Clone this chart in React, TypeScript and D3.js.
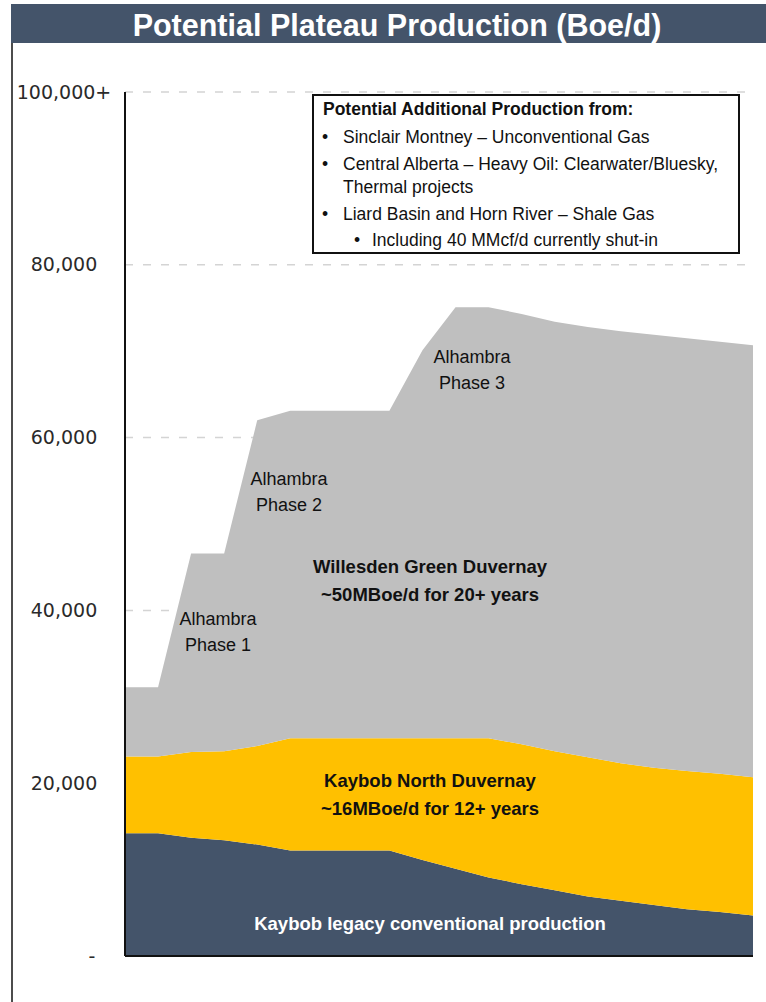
import React from "react";
import * as d3 from "d3";

// chart values (Boe/d)
const periods = ["P1", "P2", "P3", "P4", "P5", "P6", "P7", "P8", "P9", "P10",
  "P11", "P12", "P13", "P14", "P15", "P16", "P17", "P18", "P19", "P20"];
const legacyConventional = [14200, 14200, 13700, 13400, 12900, 12200, 12200, 12200, 12200, 11100,
  10100, 9100, 8300, 7600, 6900, 6400, 5900, 5400, 5100, 4700];
const kaybobNorth = [8900, 8900, 9900, 10300, 11400, 13000, 13000, 13000, 13000, 14100,
  15100, 16100, 16200, 16100, 16100, 15900, 15900, 16000, 16000, 16000];
const willesdenGreen = [8000, 8000, 23000, 22900, 37700, 37900, 37900, 37900, 37900, 44900,
  49900, 49900, 49800, 49700, 49800, 50000, 50100, 50100, 50000, 50000];

const seriesKeys = ["legacy", "kaybob", "willesden"];
const seriesColors = ["#44546A", "#FFC000", "#BFBFBF"];

const tickValues = [0, 20000, 40000, 60000, 80000, 100000];
const tickLabels = ["-", "20,000", "40,000", "60,000", "80,000", "100,000+"];

const boxLines = [
  "Sinclair Montney \u2013 Unconventional Gas",
  "Central Alberta \u2013 Heavy Oil: Clearwater/Bluesky,",
  "Thermal projects",
  "Liard Basin and Horn River \u2013 Shale Gas",
  "Including 40 MMcf/d currently shut-in"
];

let sizing = { width: 766, height: 1002, left: 125, right: 753, top: 92, bottom: 956 };

const font = "'Liberation Sans', Arial, sans-serif";

export default function App() {
  const table = periods.map((p, i) => ({
    period: p,
    legacy: legacyConventional[i],
    kaybob: kaybobNorth[i],
    willesden: willesdenGreen[i]
  }));

  const x = d3.scalePoint().domain(periods).range([sizing.left, sizing.right]);
  const y = d3.scaleLinear().domain([0, 100000]).range([sizing.bottom, sizing.top]);

  const stacked = d3.stack<any>().keys(seriesKeys)(table);
  const area = d3
    .area<any>()
    .x((d) => x(d.data.period) as number)
    .y0((d) => y(d[0]))
    .y1((d) => y(d[1]));

  const plain = { fontFamily: font, fontSize: 18, fill: "#111", textAnchor: "middle" as const };
  const bold = { ...plain, fontWeight: "bold" as const, fontSize: 18.5 };
  const boxText = { fontFamily: font, fontSize: 17.5, fill: "#111" };

  return (
    <svg width={sizing.width} height={sizing.height}
      style={{ position: "absolute", left: 0, top: 0, background: "white" }}>
      {/* title bar */}
      <rect x={11} y={4} width={755} height={39} fill="#44546A" />
      <text x={397} y={36} fill="white" textAnchor="middle"
        style={{ fontFamily: font, fontSize: 30.5, fontWeight: "bold" }}>
        Potential Plateau Production (Boe/d)
      </text>
      <line x1={12} x2={12} y1={43} y2={1002} stroke="#111" strokeWidth={1.5} />

      {/* gridlines */}
      {tickValues.filter((t) => t > 0).map((t) => (
        <line key={`g${t}`} x1={sizing.left} x2={sizing.right + 2} y1={y(t)} y2={y(t)}
          stroke="#D4D4D4" strokeWidth={1.5} strokeDasharray="8,10" />
      ))}

      {/* stacked areas */}
      {stacked.map((s, i) => (
        <path key={s.key} d={area(s) as string} fill={seriesColors[i]} />
      ))}

      {/* axes */}
      <line x1={sizing.left} x2={sizing.left} y1={sizing.top} y2={sizing.bottom}
        stroke="#111" strokeWidth={2} />
      <line x1={sizing.left} x2={sizing.right} y1={sizing.bottom} y2={sizing.bottom}
        stroke="#111" strokeWidth={2} />
      {tickValues.map((t, i) => (
        <text key={`t${t}`} x={tickLabels[i] === "-" ? 92 : 64} y={y(t)} dy="0.35em"
          textAnchor="middle"
          style={{ fontFamily: "'DejaVu Sans', Verdana, sans-serif", fontSize: 19, fill: "#2a2a2a" }}>
          {tickLabels[i]}
        </text>
      ))}

      {/* annotation box */}
      <rect x={313} y={95} width={426} height={158} fill="white" stroke="#111" strokeWidth={2} />
      <text x={323} y={115} style={{ ...boxText, fontWeight: "bold" }}>
        Potential Additional Production from:
      </text>
      {[143, 170, 193, 220, 246].map((by, i) => (
        <g key={`b${i}`}>
          {i !== 2 && (
            <text x={i === 4 ? 354 : 322} y={by} style={boxText}>{"\u2022"}</text>
          )}
          <text x={i === 4 ? 372 : 343} y={by} style={boxText}>{boxLines[i]}</text>
        </g>
      ))}

      {/* area labels */}
      <text x={218} y={625} style={plain}>Alhambra</text>
      <text x={218} y={651} style={plain}>Phase 1</text>
      <text x={289} y={485} style={plain}>Alhambra</text>
      <text x={289} y={511} style={plain}>Phase 2</text>
      <text x={472} y={363} style={plain}>Alhambra</text>
      <text x={472} y={389} style={plain}>Phase 3</text>

      <text x={430} y={573} style={bold}>Willesden Green Duvernay</text>
      <text x={430} y={601} style={bold}>~50MBoe/d for 20+ years</text>
      <text x={430} y={787} style={bold}>Kaybob North Duvernay</text>
      <text x={430} y={815} style={bold}>~16MBoe/d for 12+ years</text>
      <text x={430} y={930} style={{ ...bold, fill: "white" }}>
        Kaybob legacy conventional production
      </text>
    </svg>
  );
}
